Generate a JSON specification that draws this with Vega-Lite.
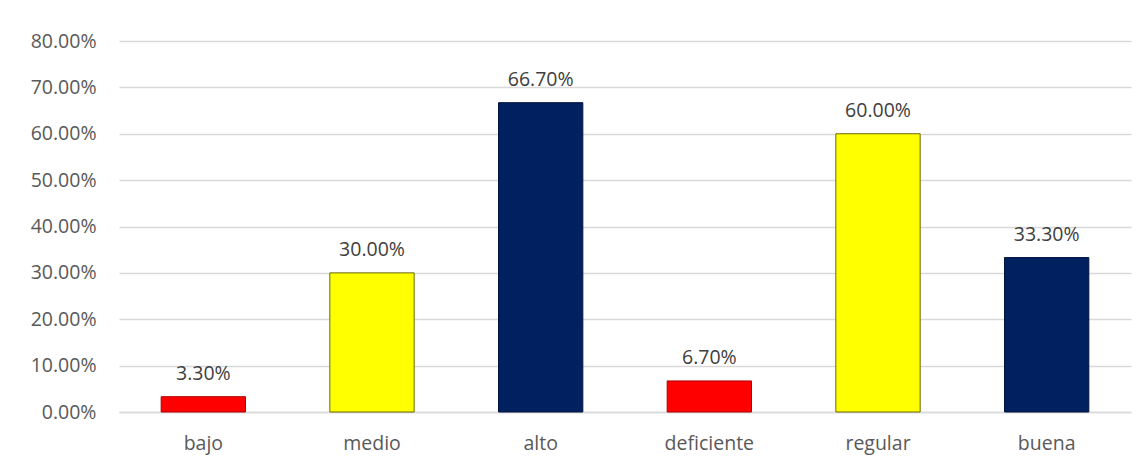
{
  "$schema": "https://vega.github.io/schema/vega-lite/v6.json",
  "width": 1012,
  "height": 371,
  "autosize": {"type": "none"},
  "padding": {"left": 119, "top": 41, "right": 14, "bottom": 56},
  "background": "white",
  "data": {
    "values": [
      {"cat": "bajo", "value": 0.033, "grp": "r"},
      {"cat": "medio", "value": 0.30, "grp": "y"},
      {"cat": "alto", "value": 0.667, "grp": "b"},
      {"cat": "deficiente", "value": 0.067, "grp": "r"},
      {"cat": "regular", "value": 0.60, "grp": "y"},
      {"cat": "buena", "value": 0.333, "grp": "b"}
    ]
  },
  "encoding": {
    "x": {
      "field": "cat", "type": "nominal", "sort": null,
      "scale": {"paddingInner": 0.5, "paddingOuter": 0.25},
      "axis": {"title": null, "labelAngle": 0, "ticks": false, "labelPadding": 22,
               "labelFont": "Open Sans", "labelFontSize": 19.5, "labelColor": "#595959",
               "domainColor": "#d9d9d9", "domainWidth": 1.5, "grid": false}
    },
    "y": {
      "field": "value", "type": "quantitative",
      "scale": {"domain": [0, 0.8]},
      "axis": {"title": null, "format": ".2%", "values": [0,0.1,0.2,0.3,0.4,0.5,0.6,0.7,0.8],
               "ticks": false, "domain": false, "labelPadding": 23,
               "labelFont": "Open Sans", "labelFontSize": 19.5, "labelColor": "#595959",
               "gridColor": "#d9d9d9", "gridWidth": 1.5}
    }
  },
  "layer": [
    {
      "mark": {"type": "bar", "strokeWidth": 1},
      "encoding": {
        "color": {"field": "grp", "type": "nominal", "legend": null,
                  "scale": {"domain": ["r", "y", "b"], "range": ["#ff0000", "#ffff00", "#002060"]}},
        "stroke": {"field": "grp", "type": "nominal", "legend": null,
                  "scale": {"domain": ["r", "y", "b"], "range": ["#b00000", "#6b6b00", "#00143d"]}}
      }
    },
    {
      "mark": {"type": "text", "baseline": "bottom", "dy": -13, "font": "Open Sans", "fontSize": 19.5, "color": "#404040"},
      "encoding": {
        "text": {"field": "value", "type": "quantitative", "format": ".2%"}
      }
    }
  ],
  "config": {"view": {"stroke": null}}
}
